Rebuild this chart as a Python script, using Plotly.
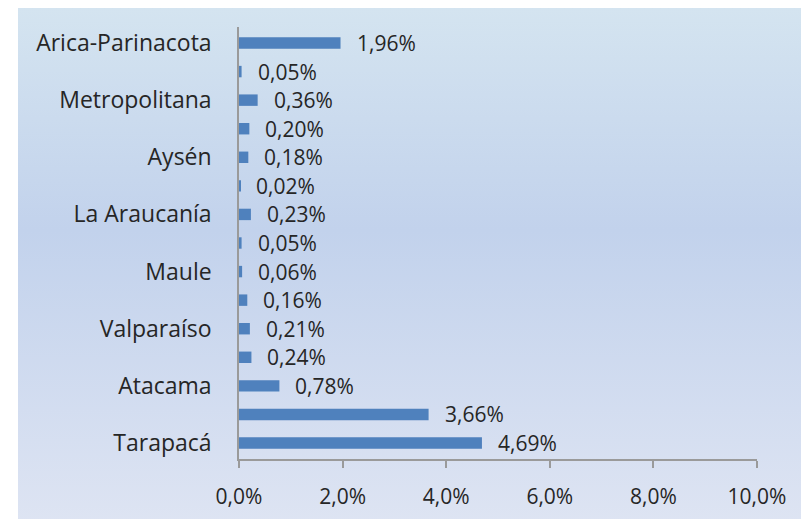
import base64
import plotly.graph_objects as go

categories = ["Tarapacá", "Antofagasta", "Atacama", "Coquimbo", "Valparaíso",
              "O'Higgins", "Maule", "Biobío", "La Araucanía", "Los Lagos",
              "Aysén", "Magallanes", "Metropolitana", "Los Ríos", "Arica-Parinacota"]
values = [4.69, 3.66, 0.78, 0.24, 0.21, 0.16, 0.06, 0.05, 0.23, 0.02,
          0.18, 0.20, 0.36, 0.05, 1.96]
shown_labels = categories[0::2]
x_ticks = [0.0, 0.02, 0.04, 0.06, 0.08, 0.10]

fracs = [v / 100 for v in values]

W, H = 809, 519
L, R, T, B = 231, 749, 19, 451
pw, ph = R - L, B - T

svg = ('<svg xmlns="http://www.w3.org/2000/svg" width="100" height="100" preserveAspectRatio="none">'
       '<defs><linearGradient id="g" x1="0" y1="0" x2="0" y2="1">'
       '<stop offset="0" stop-color="#d4e4f0"/>'
       '<stop offset="0.42" stop-color="#c2d2ec"/>'
       '<stop offset="1" stop-color="#dfe5f3"/>'
       '</linearGradient></defs><rect width="100" height="100" fill="url(#g)"/></svg>')
src = "data:image/svg+xml;base64," + base64.b64encode(svg.encode()).decode()

FONT = "Open Sans"
TXT = "#262626"

fig = go.Figure()
fig.add_trace(go.Bar(
    y=categories, x=fracs, orientation="h",
    marker=dict(color="#4f81bd", line=dict(width=0)),
    hoverinfo="skip",
))

for c, f in zip(categories, fracs):
    fig.add_annotation(x=f, y=c, xref="x", yref="y", text=f"{f*100:.2f}%".replace(".", ","),
                       showarrow=False, xanchor="left", yanchor="middle", xshift=14,
                       font=dict(size=21, color=TXT, family=FONT))

fig.add_layout_image(dict(
    source=src, xref="paper", yref="paper",
    x=(10 - L) / pw, y=(B - 0) / ph, sizex=(W - 10) / pw, sizey=(H + 10) / ph,
    xanchor="left", yanchor="top", sizing="stretch", layer="below",
))

fig.update_layout(
    width=W, height=H,
    margin=dict(l=L, r=W - R, t=T, b=H - B, pad=0),
    paper_bgcolor="white", plot_bgcolor="white",
    separators=",.",
    bargap=0.6, showlegend=False,
    font=dict(family=FONT, size=21, color=TXT),
    xaxis=dict(range=[0, 0.1], tickvals=x_ticks, tickformat=".1%",
               showgrid=False, zeroline=False, showline=True, linecolor="#9a9a9a", linewidth=1.5,
               ticks="outside", ticklen=7, tickcolor="#9a9a9a", tickwidth=1.5,
               ticklabelstandoff=11, tickfont=dict(size=21)),
    yaxis=dict(categoryorder="array", categoryarray=categories,
               tickmode="array", tickvals=shown_labels, ticktext=shown_labels,
               showgrid=False, zeroline=False, showline=True, linecolor="#9a9a9a", linewidth=1.5,
               ticks="", ticklabelstandoff=21, tickfont=dict(size=23)),
)

fig.write_html("out.html")
